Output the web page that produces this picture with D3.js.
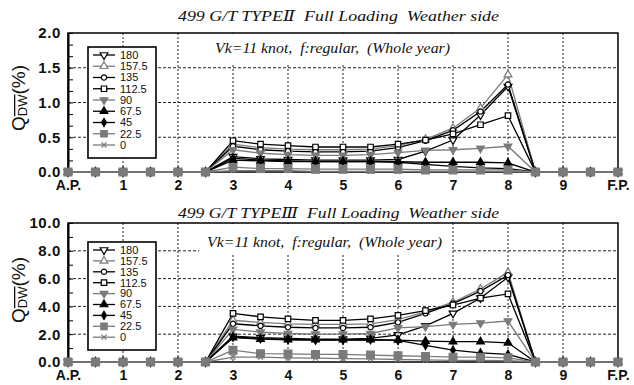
<!DOCTYPE html>
<html><head><meta charset="utf-8">
<script src="https://cdn.jsdelivr.net/npm/d3@7"></script>
<style>body{margin:0;background:#fff}svg{display:block}text{white-space:pre}</style>
</head><body>
<svg id="c" width="634" height="385"></svg>
<script>
// ---------- data ----------
const stations = [0,0.5,1,1.5,2,2.5,3,3.5,4,4.5,5,5.5,6,6.5,7,7.5,8,8.5,9,9.5,10];
const stationTicks = [0,1,2,3,4,5,6,7,8,9,10];
const stationLabels = ["A.P.","1","2","3","4","5","6","7","8","9","F.P."];
const seriesNames = ["180","157.5","135","112.5","90","67.5","45","22.5","0"];

const typeII_180  = [0,0,0,0,0,0, 0.22,0.19,0.18,0.17,0.17,0.17,0.18,0.30,0.46,0.82,1.23, 0,0,0,0];
const typeII_1575 = [0,0,0,0,0,0, 0.40,0.35,0.33,0.32,0.32,0.33,0.38,0.47,0.63,0.92,1.40, 0,0,0,0];
const typeII_135  = [0,0,0,0,0,0, 0.37,0.32,0.30,0.29,0.29,0.30,0.35,0.45,0.60,0.87,1.26, 0,0,0,0];
const typeII_1125 = [0,0,0,0,0,0, 0.45,0.40,0.38,0.36,0.36,0.36,0.40,0.46,0.55,0.68,0.81, 0,0,0,0];
const typeII_90   = [0,0,0,0,0,0, 0.32,0.27,0.25,0.24,0.24,0.25,0.28,0.31,0.32,0.34,0.37, 0,0,0,0];
const typeII_675  = [0,0,0,0,0,0, 0.17,0.16,0.15,0.15,0.15,0.15,0.15,0.14,0.14,0.14,0.13, 0,0,0,0];
const typeII_45   = [0,0,0,0,0,0, 0.20,0.17,0.16,0.15,0.15,0.15,0.14,0.11,0.08,0.06,0.05, 0,0,0,0];
const typeII_225  = [0,0,0,0,0,0, 0.07,0.05,0.05,0.04,0.04,0.04,0.04,0.03,0.03,0.03,0.03, 0,0,0,0];
const typeII_0    = [0,0,0,0,0,0, 0.02,0.02,0.02,0.01,0.01,0.01,0.01,0.01,0.01,0.01,0.01, 0,0,0,0];

const typeIII_180  = [0,0,0,0,0,0, 1.85,1.75,1.70,1.65,1.65,1.70,1.95,2.60,3.50,4.60,6.10, 0,0,0,0];
const typeIII_1575 = [0,0,0,0,0,0, 3.00,2.85,2.75,2.70,2.70,2.75,3.05,3.60,4.30,5.25,6.45, 0,0,0,0];
const typeIII_135  = [0,0,0,0,0,0, 2.75,2.60,2.50,2.45,2.45,2.50,2.85,3.50,4.20,5.10,6.25, 0,0,0,0];
const typeIII_1125 = [0,0,0,0,0,0, 3.50,3.25,3.10,3.00,3.00,3.10,3.35,3.70,4.10,4.60,4.90, 0,0,0,0];
const typeIII_90   = [0,0,0,0,0,0, 2.35,2.15,2.05,2.00,2.00,2.05,2.45,2.55,2.70,2.80,2.95, 0,0,0,0];
const typeIII_675  = [0,0,0,0,0,0, 1.75,1.65,1.60,1.60,1.60,1.60,1.58,1.50,1.46,1.46,1.38, 0,0,0,0];
const typeIII_45   = [0,0,0,0,0,0, 1.80,1.68,1.62,1.58,1.58,1.60,1.55,1.20,0.85,0.65,0.55, 0,0,0,0];
const typeIII_225  = [0,0,0,0,0,0, 0.85,0.60,0.58,0.55,0.55,0.50,0.45,0.40,0.35,0.35,0.30, 0,0,0,0];
const typeIII_0    = [0,0,0,0,0,0, 0.35,0.35,0.30,0.28,0.25,0.22,0.18,0.15,0.12,0.12,0.10, 0,0,0,0];

const typeIITicks  = [0,0.5,1,1.5,2];
const typeIIITicks = [0,2,4,6,8,10];
const typeIITitle  = "499 G/T TYPEⅡ  Full Loading  Weather side";
const typeIIITitle = "499 G/T TYPEⅢ  Full Loading  Weather side";
const subTitle = "Vk=11 knot,  f:regular,  (Whole year)";

// ---------- styles ----------
const BLACK = "#000", GRAY = "#7a7a7a";
const seriesStyle = [
  {sym: "tridown", color: BLACK, fill: "#fff", size: 26},
  {sym: d3.symbolTriangle, color: GRAY, fill: "#fff", size: 26},
  {sym: d3.symbolCircle, color: BLACK, fill: "#fff", size: 22},
  {sym: d3.symbolSquare, color: BLACK, fill: "#fff", size: 30},
  {sym: "tridown", color: GRAY, fill: GRAY, size: 26},
  {sym: d3.symbolTriangle, color: BLACK, fill: BLACK, size: 26},
  {sym: d3.symbolDiamond, color: BLACK, fill: BLACK, size: 20},
  {sym: d3.symbolSquare, color: GRAY, fill: GRAY, size: 60},
  {sym: d3.symbolX, color: GRAY, fill: "none", size: 18}
];
const lineOrder = [0,1,2,3,4,5,6,8,7];
const markerOrder = [8,0,1,2,3,4,5,6,7];

function markerPath(st, scale) {
  const s = st.size * (scale || 1);
  if (st.sym === "tridown") return d3.symbol(d3.symbolTriangle, s)();
  return d3.symbol(st.sym, s)();
}
function markerTransform(st, px, py) {
  return st.sym === "tridown" ? `translate(${px},${py}) rotate(180)` : `translate(${px},${py})`;
}

const svg = d3.select("#c");

function drawPanel(opt) {
  const g = svg.append("g");
  const x = d3.scaleLinear().domain([0,10]).range([68,618]);
  const y = d3.scaleLinear().domain([0,opt.yMax]).range([opt.bottom, opt.top]);

  // grid
  g.append("g").selectAll("line").data(stationTicks.slice(1,10)).join("line")
    .attr("x1", d=>x(d)).attr("x2", d=>x(d)).attr("y1", opt.top).attr("y2", opt.bottom)
    .attr("stroke", "#222").attr("stroke-width", 1).attr("stroke-dasharray", "2,2");
  g.append("g").selectAll("line").data(opt.ticks.slice(1,-1)).join("line")
    .attr("x1", 68).attr("x2", 618).attr("y1", d=>y(d)).attr("y2", d=>y(d))
    .attr("stroke", "#222").attr("stroke-width", 1).attr("stroke-dasharray", "3,2");

  // subtitle box
  g.append("rect").attr("x", opt.subX0 - 8).attr("y", opt.top + 1)
    .attr("width", opt.subX1 - opt.subX0 + 18).attr("height", 31).attr("fill", "#fff");
  g.append("text").attr("x", opt.subX0).attr("y", opt.subY)
    .attr("font-family", "'Liberation Serif', 'DejaVu Serif', serif").attr("font-style", "italic")
    .attr("font-size", 14).attr("textLength", opt.subX1 - opt.subX0).attr("lengthAdjust", "spacingAndGlyphs")
    .attr("fill", "#111").text(subTitle);

  // title
  g.append("text").attr("x", 178).attr("y", opt.titleY)
    .attr("font-family", "'Liberation Serif', 'DejaVu Serif', serif").attr("font-style", "italic")
    .attr("font-size", 15).attr("textLength", 321).attr("lengthAdjust", "spacingAndGlyphs")
    .attr("fill", "#111").text(opt.title);

  // frame
  g.append("rect").attr("x", 68).attr("y", opt.top).attr("width", 550).attr("height", opt.bottom - opt.top)
    .attr("fill", "none").attr("stroke", "#000").attr("stroke-width", 1.5);

  // y axis
  const yAx = g.append("g").attr("transform", "translate(68,0)")
    .call(d3.axisLeft(y).tickValues(opt.ticks).tickFormat(d3.format(".1f")).tickSize(0).tickPadding(7));
  yAx.select(".domain").attr("stroke-width", 2);
  yAx.selectAll("text").attr("font-family", "'Liberation Sans', Arial, sans-serif")
    .attr("font-weight", "bold").attr("font-size", 15).attr("letter-spacing", "0.6px").attr("fill", "#111");
  g.append("g").attr("transform", "translate(68,0)")
    .call(d3.axisRight(y).tickValues(opt.minor).tickSize(5).tickFormat(""))
    .call(s => s.select(".domain").remove());

  // x axis
  const xAx = g.append("g").attr("transform", `translate(0,${opt.bottom})`)
    .call(d3.axisBottom(x).tickValues(stationTicks).tickFormat((d,i)=>stationLabels[i]).tickSize(0).tickPadding(8));
  xAx.select(".domain").remove();
  xAx.selectAll("text").attr("font-family", "'Liberation Sans', Arial, sans-serif")
    .attr("font-weight", "bold").attr("font-size", 14).attr("fill", "#111");

  // series
  const line = d3.line().x((d,i)=>x(stations[i])).y(d=>y(d));
  lineOrder.forEach(si => {
    const st = seriesStyle[si];
    g.append("path").datum(opt.series[si]).attr("d", line).attr("fill", "none")
      .attr("stroke", st.color).attr("stroke-width", 1.3);
  });
  markerOrder.forEach(si => {
    const st = seriesStyle[si];
    g.append("g").selectAll("path").data(opt.series[si]).join("path")
      .attr("d", markerPath(st))
      .attr("transform", (d,i)=>markerTransform(st, x(stations[i]), y(d)))
      .attr("fill", st.fill).attr("stroke", st.color).attr("stroke-width", 1.2);
  });

  // y label
  const yl = g.append("text").attr("transform", `translate(25,${opt.labelY}) rotate(-90)`)
    .attr("text-anchor", "middle").attr("font-family", "'Liberation Sans', Arial, sans-serif")
    .attr("font-size", 19).attr("fill", "#111");
  yl.append("tspan").text("Q");
  yl.append("tspan").attr("font-size", 13).attr("dy", 2).attr("text-decoration", "overline").text("DW");
  yl.append("tspan").attr("dy", -2).text("(%)");

  // legend
  const lg = g.append("g");
  lg.append("rect").attr("x", 88).attr("y", opt.legTop).attr("width", 68).attr("height", opt.legH)
    .attr("fill", "#fff").attr("stroke", "#000").attr("stroke-width", 1.6);
  seriesNames.forEach((nm, si) => {
    const st = seriesStyle[si];
    const ly = opt.legTop + 8 + si * opt.legStep;
    lg.append("line").attr("x1", 93).attr("x2", 115).attr("y1", ly).attr("y2", ly)
      .attr("stroke", st.color).attr("stroke-width", 1.3);
    lg.append("path").attr("d", markerPath(st, st.size > 40 ? 0.7 : 1))
      .attr("transform", markerTransform(st, 104, ly))
      .attr("fill", st.fill).attr("stroke", st.color).attr("stroke-width", 1.2);
    lg.append("text").attr("x", 120).attr("y", ly).attr("dy", "0.35em")
      .attr("font-family", "'Liberation Sans', Arial, sans-serif").attr("font-size", 11)
      .attr("fill", "#111").text(nm);
  });
}

drawPanel({
  top: 33, bottom: 172, yMax: 2, ticks: typeIITicks,
  minor: [0,1/6,2/6,0.5,4/6,5/6,1,7/6,8/6,1.5,10/6,11/6,2],
  title: typeIITitle, titleY: 21, subX0: 215, subX1: 450, subY: 53, labelY: 98,
  legTop: 47, legH: 111, legStep: 11.25,
  series: [typeII_180, typeII_1575, typeII_135, typeII_1125, typeII_90, typeII_675, typeII_45, typeII_225, typeII_0]
});
drawPanel({
  top: 223, bottom: 362, yMax: 10, ticks: typeIIITicks,
  minor: [0,1,2,3,4,5,6,7,8,9,10],
  title: typeIIITitle, titleY: 218, subX0: 207, subX1: 442, subY: 247, labelY: 290,
  legTop: 242, legH: 108, legStep: 10.9,
  series: [typeIII_180, typeIII_1575, typeIII_135, typeIII_1125, typeIII_90, typeIII_675, typeIII_45, typeIII_225, typeIII_0]
});
</script>
</body></html>
